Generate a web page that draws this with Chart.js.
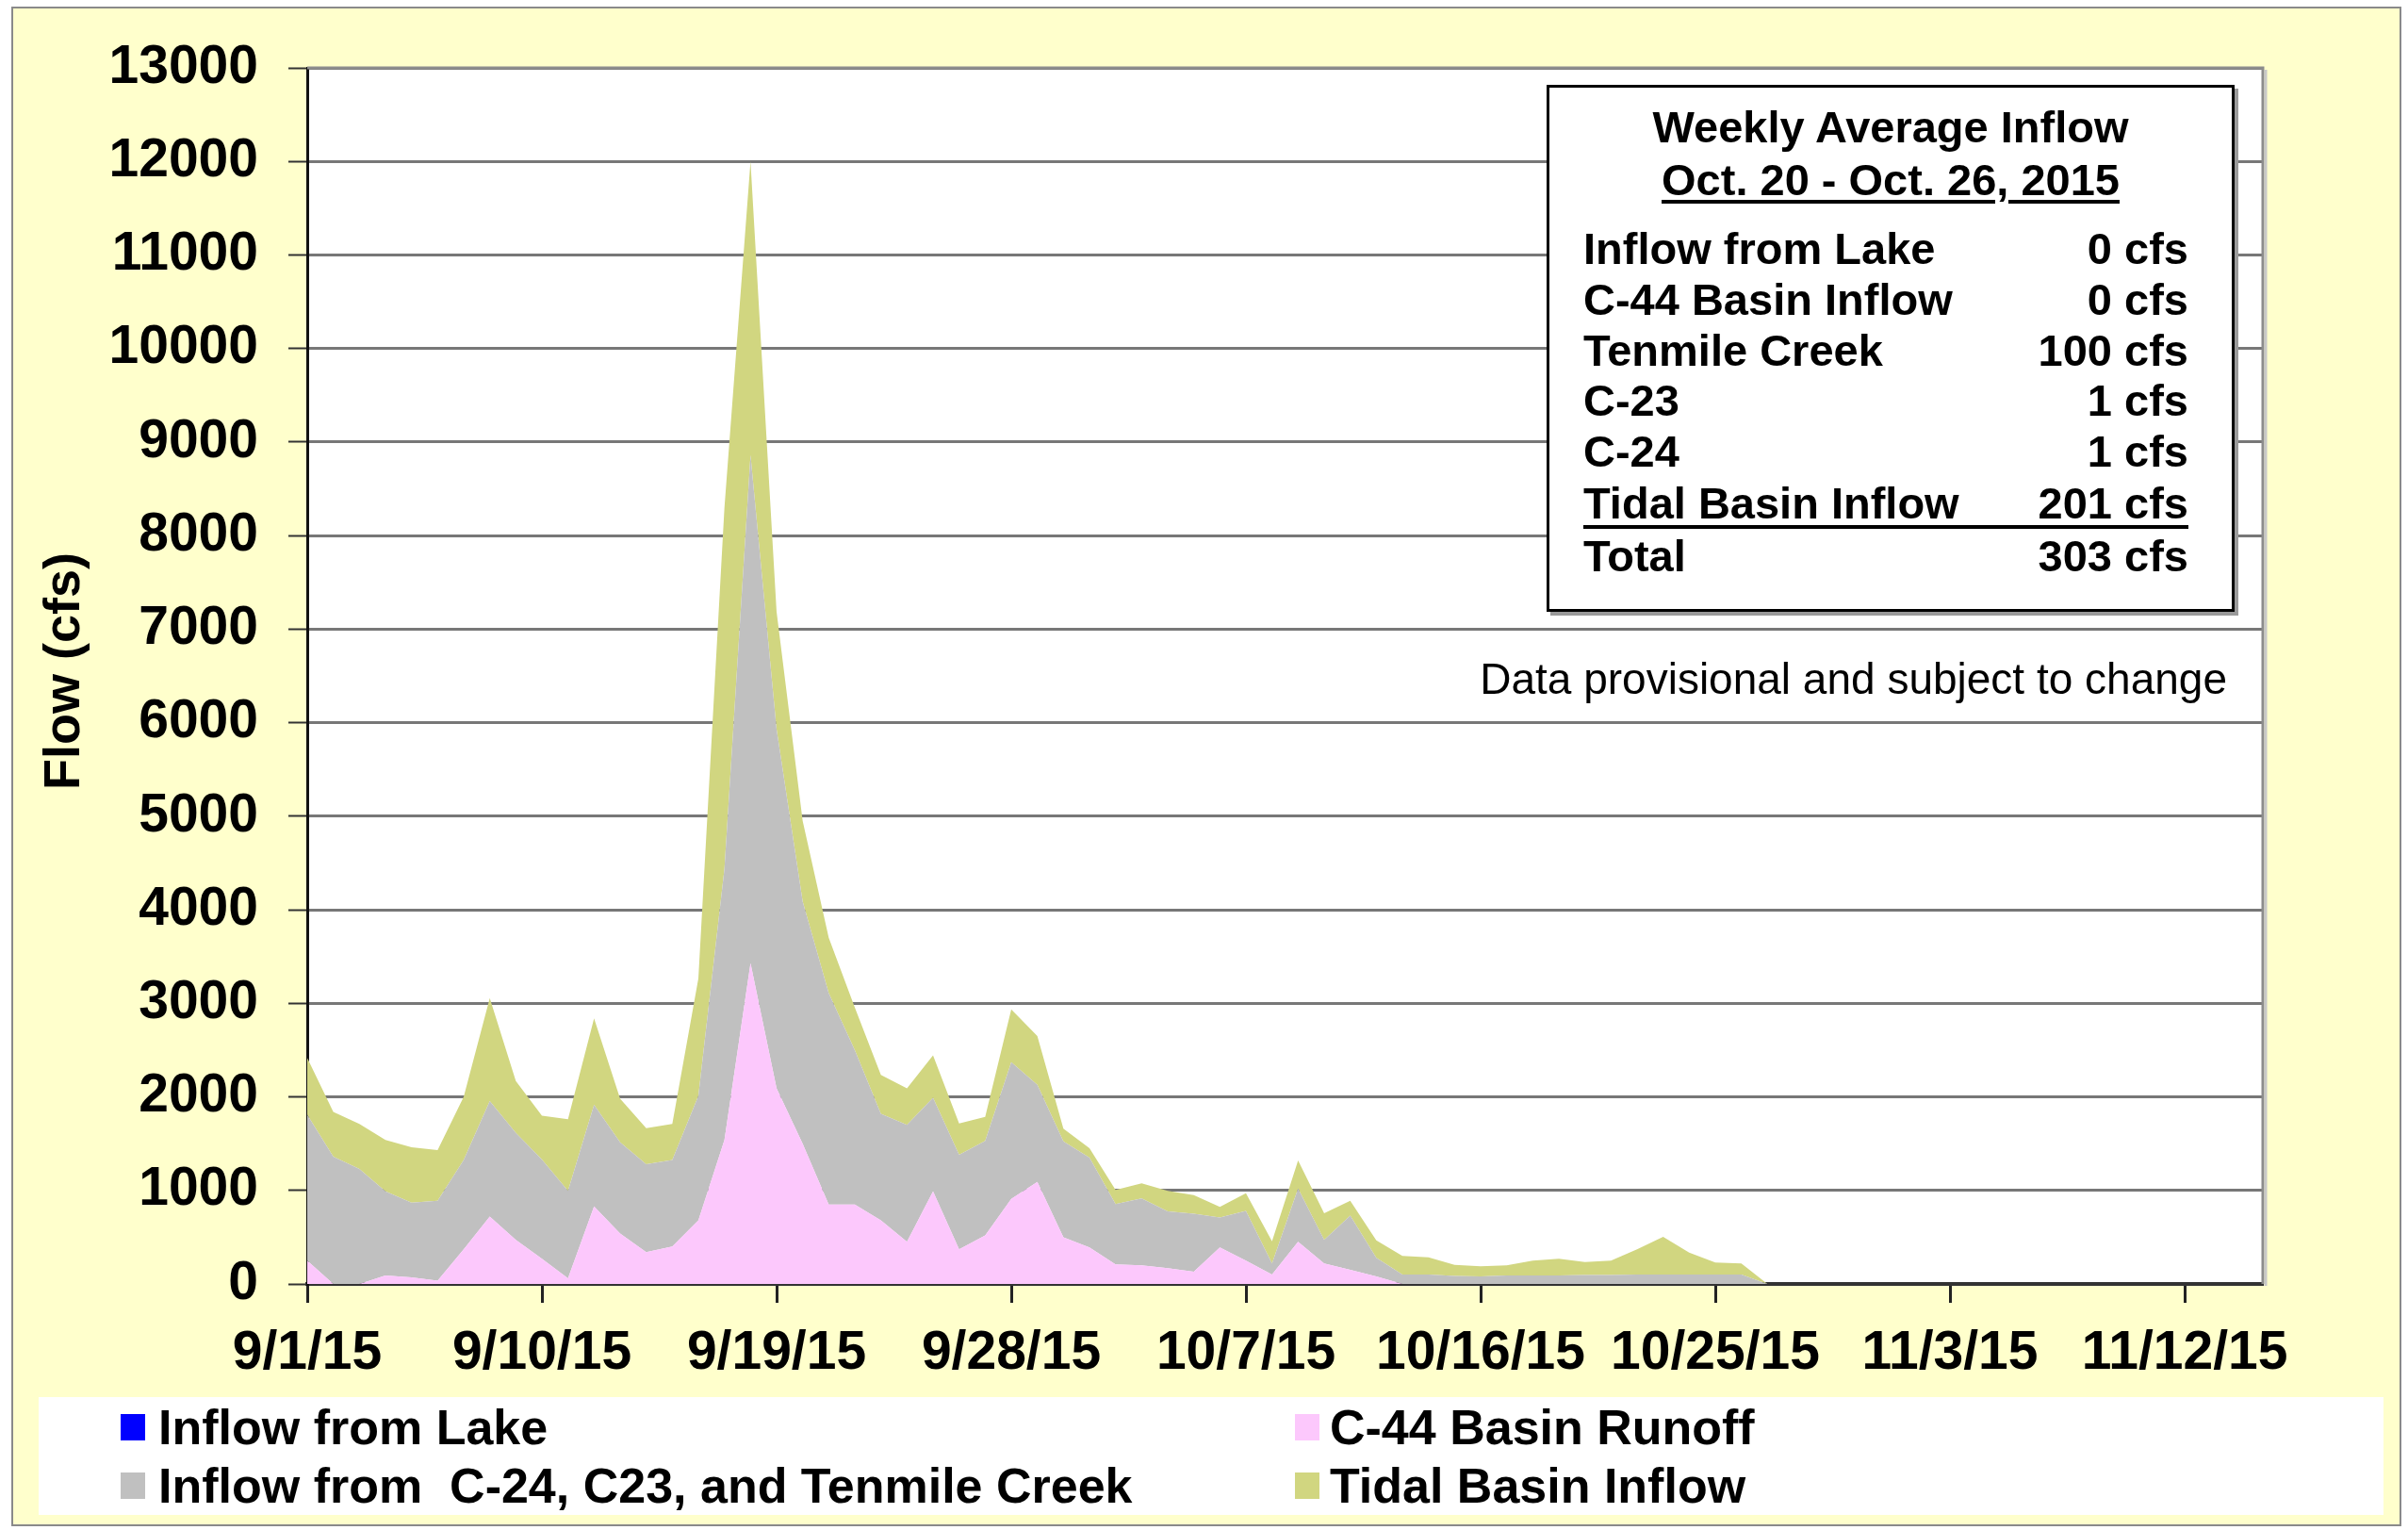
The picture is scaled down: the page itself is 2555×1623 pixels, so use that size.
<!DOCTYPE html>
<html>
<head>
<meta charset="utf-8">
<title>Weekly Average Inflow</title>
<script src="https://cdn.jsdelivr.net/npm/chart.js@4.4.1/dist/chart.umd.min.js"></script>
<style>
  body { margin: 0; background: #fff; font-family: "Liberation Sans", Arial, sans-serif; }
  #frame { position: absolute; left: 12px; top: 7px; width: 2536px; height: 1612px;
    background: #ffffcc; border: 2px solid #8a8a8a; box-sizing: border-box; }
  #c { position: absolute; left: 0; top: 0; }
  #box { position: absolute; left: 1641px; top: 90px; width: 730px; height: 559px;
    box-sizing: border-box; border: 3px solid #000; background: #fff; box-shadow: 4px 4px 0 #9a9a9a;
    font-weight: bold; font-size: 47px; color: #000; }
  #box .line { position: absolute; left: 0; width: 100%; text-align: center; line-height: 54px; }
  #box .row { position: absolute; left: 36px; width: 642px; line-height: 54px;
    display: flex; justify-content: space-between; }
  #box .u { text-decoration: underline; text-decoration-thickness: 4px; text-underline-offset: 5px; }
  #rule { position: absolute; left: 36px; top: 464px; width: 642px; height: 4px; background: #000; }
  #note { position: absolute; right: 192px; top: 690px; font-size: 46px; line-height: 60px; color: #000; }
  #legend { position: absolute; left: 41px; top: 1482px; width: 2488px; height: 125px; background: #fff; }
  .item { position: absolute; height: 60px; line-height: 60px; font-size: 52px; font-weight: bold;
    white-space: pre; color: #000; }
  .mark { position: absolute; width: 26px; height: 28px; }
  #ytitle { position: absolute; left: 65px; top: 712px; transform: translate(-50%, -50%) rotate(-90deg);
    font-size: 54px; font-weight: bold; white-space: nowrap; }
</style>
</head>
<body>
<div id="frame"></div>
<canvas id="c" width="2555" height="1623"></canvas>
<div id="ytitle">Flow (cfs)</div>
<div id="box">
  <div class="line" style="top:15px">Weekly Average Inflow</div>
  <div class="line" style="top:71px"><span class="u">Oct. 20 - Oct. 26, 2015</span></div>
  <div class="row" style="top:144px"><span>Inflow from Lake</span><span>0 cfs</span></div>
  <div class="row" style="top:198px"><span>C-44 Basin Inflow</span><span>0 cfs</span></div>
  <div class="row" style="top:252px"><span>Tenmile Creek</span><span>100 cfs</span></div>
  <div class="row" style="top:305px"><span>C-23</span><span>1 cfs</span></div>
  <div class="row" style="top:359px"><span>C-24</span><span>1 cfs</span></div>
  <div class="row" style="top:414px"><span>Tidal Basin Inflow</span><span>201 cfs</span></div>
  <div id="rule"></div>
  <div class="row" style="top:470px"><span>Total</span><span>303 cfs</span></div>
</div>
<div id="note">Data provisional and subject to change</div>
<div id="legend"></div>

<script>
// daily values, 9/1/15 .. 10/27/15 (cfs)
const dates = [
  "9/1", "9/2", "9/3", "9/4", "9/5", "9/6", "9/7", "9/8", "9/9", "9/10",
  "9/11", "9/12", "9/13", "9/14", "9/15", "9/16", "9/17", "9/18", "9/19", "9/20",
  "9/21", "9/22", "9/23", "9/24", "9/25", "9/26", "9/27", "9/28", "9/29", "9/30",
  "10/1", "10/2", "10/3", "10/4", "10/5", "10/6", "10/7", "10/8", "10/9", "10/10",
  "10/11", "10/12", "10/13", "10/14", "10/15", "10/16", "10/17", "10/18", "10/19", "10/20",
  "10/21", "10/22", "10/23", "10/24", "10/25", "10/26", "10/27",
];

const lakeInflow = [
  0, 0, 0, 0, 0, 0, 0, 0, 0, 0,
  0, 0, 0, 0, 0, 0, 0, 0, 0, 0,
  0, 0, 0, 0, 0, 0, 0, 0, 0, 0,
  0, 0, 0, 0, 0, 0, 0, 0, 0, 0,
  0, 0, 0, 0, 0, 0, 0, 0, 0, 0,
  0, 0, 0, 0, 0, 0, 0,
];

const c44Runoff = [
  250, 0, 0, 90, 70, 35, 370, 720, 470, 270,
  60, 830, 540, 340, 400, 680, 1540, 3430, 2090, 1500,
  850, 850, 680, 450, 990, 370, 520, 910, 1090, 500,
  390, 210, 200, 170, 130, 390, 250, 100, 450, 220,
  150, 80, 0, 0, 0, 0, 0, 0, 0, 0,
  0, 0, 0, 0, 0, 0, 0,
];

const c24c23Tenmile = [
  1560, 1360, 1230, 900, 800, 855, 955, 1235, 1145, 1060,
  935, 1085, 975, 940, 925, 1330, 2900, 5430, 3840, 2590,
  2260, 1650, 1140, 1250, 1000, 1010, 1010, 1460, 1040, 1025,
  960, 645, 715, 605, 620, 320, 530, 120, 570, 250,
  580, 200, 100, 100, 85, 80, 90, 90, 90, 95,
  95, 100, 100, 100, 100, 100, 0,
];

const tidalInflow = [
  605, 480, 480, 550, 590, 540, 675, 1100, 555, 470,
  765, 925, 465, 385, 385, 1255, 3860, 3140, 1255, 860,
  590, 455, 415, 390, 455, 335, 255, 565, 520, 135,
  100, 150, 160, 220, 200, 115, 190, 235, 300, 285,
  160, 185, 200, 185, 120, 110, 110, 160, 180, 140,
  155, 270, 405, 235, 130, 120, 0,
];

// x axis runs 9/1/15 .. 11/15/15, a label every 9 days
const tickLabels = ["9/1/15", "9/10/15", "9/19/15", "9/28/15", "10/7/15", "10/16/15", "10/25/15", "11/3/15", "11/12/15"];
const lastDay = 75;

const FONT = '"Liberation Sans", Arial, sans-serif';

const series = [
  { label: "Inflow from Lake", values: lakeInflow, color: "#0000ff" },
  { label: "C-44 Basin Runoff", values: c44Runoff, color: "#fcc8fc" },
  { label: "Inflow from  C-24, C23, and Tenmile Creek", values: c24c23Tenmile, color: "#c0c0c0" },
  { label: "Tidal Basin Inflow", values: tidalInflow, color: "#d1d680" },
];

const datasets = series.map((s, i) => ({
  label: s.label,
  data: s.values.map((v, d) => ({ x: d, y: v })),
  backgroundColor: s.color,
  borderColor: s.color,
  borderWidth: 0,
  pointRadius: 0,
  tension: 0,
  fill: i === 0 ? "origin" : "-1",
}));

// white plot area + grey frame like the spreadsheet chart
const plotFrame = {
  id: "plotFrame",
  beforeDraw(chart) {
    const { ctx, chartArea: a } = chart;
    ctx.save();
    ctx.fillStyle = "#fff";
    ctx.fillRect(a.left, a.top, a.right - a.left, a.bottom - a.top);
    ctx.restore();
  },
  afterDraw(chart) {
    const { ctx, chartArea: a } = chart;
    ctx.save();
    ctx.strokeStyle = "#8c8c8c";
    ctx.lineWidth = 3;
    ctx.beginPath();
    ctx.moveTo(a.left, a.top);
    ctx.lineTo(a.right, a.top);
    ctx.lineTo(a.right, a.bottom);
    ctx.stroke();
    ctx.strokeStyle = "#c8c8c8";
    ctx.lineWidth = 3;
    ctx.beginPath();
    ctx.moveTo(a.right + 3, a.top + 2);
    ctx.lineTo(a.right + 3, a.bottom + 2);
    ctx.stroke();
    ctx.restore();
  },
};

new Chart(document.getElementById("c"), {
  type: "line",
  data: { datasets },
  plugins: [plotFrame],
  options: {
    responsive: false,
    animation: false,
    layout: { padding: { left: 13, top: 72, right: 154, bottom: 140 } },
    plugins: { legend: { display: false }, tooltip: { enabled: false } },
    scales: {
      x: {
        type: "linear",
        min: 0,
        max: lastDay,
        z: 1,
        ticks: {
          stepSize: 9,
          includeBounds: false,
          autoSkip: false,
          maxRotation: 0,
          padding: 20,
          color: "#000",
          font: { family: FONT, size: 57, weight: "bold" },
          callback: (v) => tickLabels[Math.round(v / 9)] ?? "",
        },
        grid: { drawOnChartArea: false, tickLength: 20, tickColor: "#222", tickWidth: 3 },
        border: { color: "#333", width: 4 },
        afterFit(s) { s.height = 121; },
      },
      y: {
        stacked: true,
        min: 0,
        max: 13000,
        ticks: {
          stepSize: 1000,
          padding: 32,
          color: "#000",
          font: { family: FONT, size: 57, weight: "bold" },
          callback: (v) => String(v),
        },
        grid: { color: "#777", lineWidth: 3, tickLength: 20, tickColor: "#333", tickWidth: 2 },
        border: { color: "#111", width: 3 },
        afterFit(s) { s.width = 313; },
      },
    },
  },
});

// legend in two columns, built from the same series
const legend = document.getElementById("legend");
series.forEach((s, i) => {
  const col = i % 2, row = Math.floor(i / 2);
  const top = row === 0 ? 2 : 64;
  const m = document.createElement("div");
  m.className = "mark";
  m.style.background = s.color;
  m.style.left = (col === 0 ? 87 : 1333) + "px";
  m.style.top = (top + 16) + "px";
  legend.appendChild(m);
  const t = document.createElement("div");
  t.className = "item";
  t.textContent = s.label;
  t.style.left = (col === 0 ? 127 : 1370) + "px";
  t.style.top = top + "px";
  legend.appendChild(t);
});
</script>
</body>
</html>
